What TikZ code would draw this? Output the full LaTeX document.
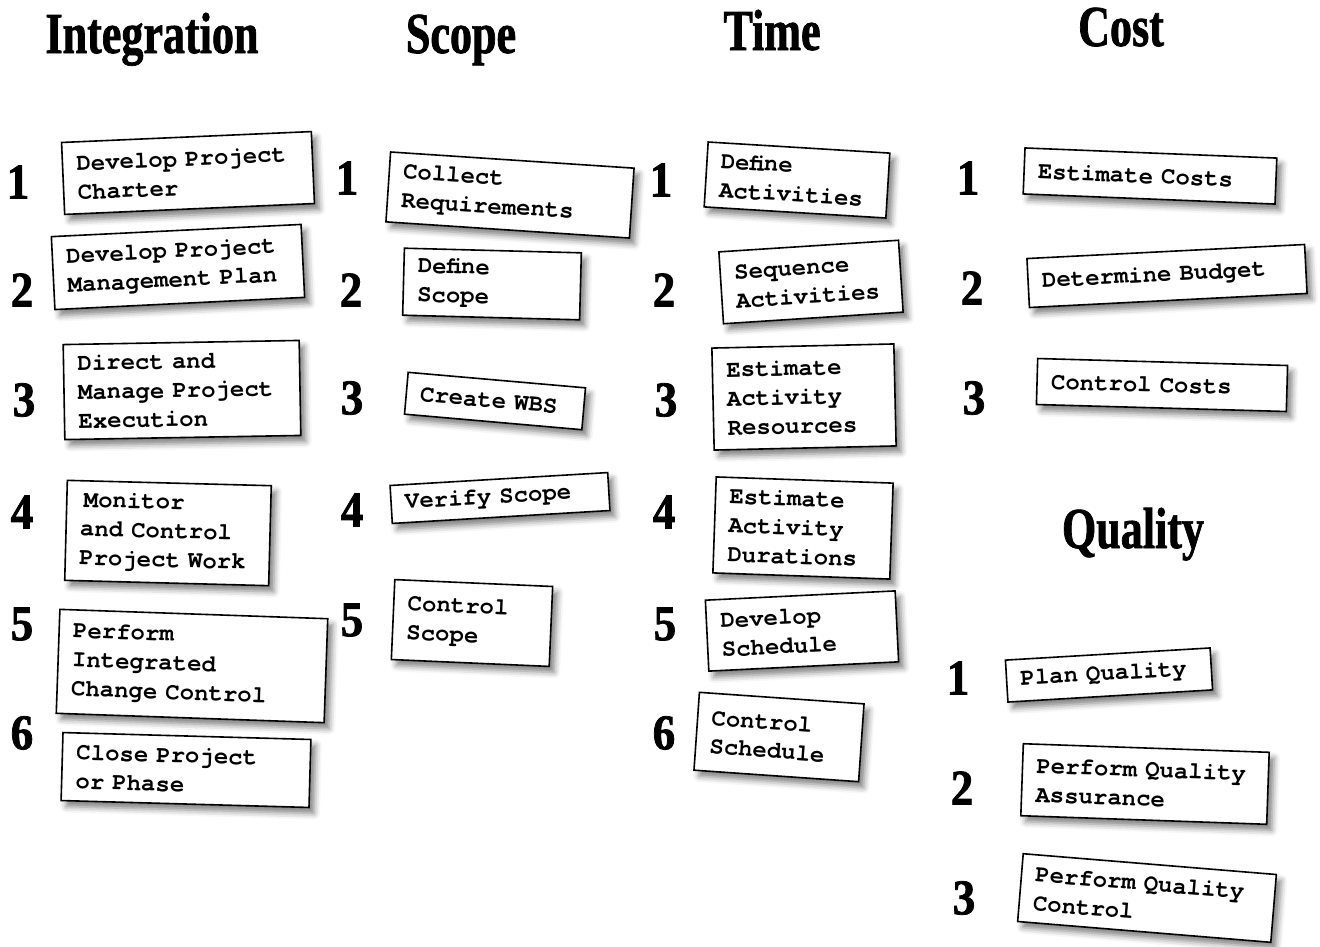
\documentclass[tikz,border=0pt]{standalone}
\usepackage{fontspec}
\setmainfont{Liberation Serif}
\setmonofont{TeX Gyre Cursor}
\newfontfamily\headfont[FakeStretch=0.76, FakeBold=1.2]{Liberation Serif}
\newfontfamily\numfont[FakeStretch=0.9, FakeBold=1.5]{Liberation Serif}
\usetikzlibrary{shadows.blur}

\tikzset{
    task/.style={draw, line width=1.6pt, fill=white, align=left,
        inner xsep=14pt, inner ysep=5pt,
        font={\ttfamily\bfseries\fontsize{24}{29}\selectfont
            \spaceskip=0.6em\relax \xspaceskip=0.6em\relax},
        blur shadow={shadow xshift=5pt, shadow yshift=-6pt,
            shadow opacity=50, shadow blur radius=6pt}},
    area/.style={anchor=base, font=\headfont\bfseries\fontsize{58}{60}\selectfont},
    num/.style={inner sep=0pt, font=\numfont\bfseries\fontsize{50}{50}\selectfont}
}

\begin{document}
\begin{tikzpicture}[x=1pt, y=-1pt]
    \useasboundingbox (0,0) rectangle (1320,946);

    \node[area] (hint) at (152,53) {Integration};
    \node[area] (hscp) at (461,53) {Scope};
    \node[area] (htim) at (772,50) {Time};
    \node[area] (hcst) at (1121,46) {Cost};
    \node[area] (hqlt) at (1133,548) {Quality};

    \foreach \n/\x/\y in {1/18/182, 2/22/290, 3/24/400, 4/22/512, 5/22/624, 6/22/733}
        \node[num] (nint\n) at (\x,\y) {\n};
    \foreach \n/\x/\y in {1/347/178, 2/351/290, 3/352/398, 4/352/510, 5/352/620}
        \node[num] (nscp\n) at (\x,\y) {\n};
    \foreach \n/\x/\y in {1/661/180, 2/664/290, 3/666/400, 4/664/512, 5/665/624, 6/664/733}
        \node[num] (ntim\n) at (\x,\y) {\n};
    \foreach \n/\x/\y in {1/968/178, 2/972/288, 3/974/398}
        \node[num] (ncst\n) at (\x,\y) {\n};
    \foreach \n/\x/\y in {1/958/678, 2/962/788, 3/964/898}
        \node[num] (nqlt\n) at (\x,\y) {\n};

    \node[task, rotate=2.5, text width=222pt, minimum height=72pt] (int1) at (188,173) {Develop Project\\Charter};
    \node[task, rotate=2.8, text width=222pt, minimum height=73pt] (int2) at (178,267) {Develop Project\\Management Plan};
    \node[task, rotate=1, text width=208pt, minimum height=95pt] (int3) at (182,390) {Direct and\\Manage Project\\Execution};
    \node[task, rotate=-1.5, text width=176pt, minimum height=100pt] (int4) at (168,533) {\hspace{3pt}Monitor\\and Control\\Project Work};
    \node[task, rotate=-2, text width=240pt, minimum height=104pt] (int5) at (192,666) {Perform\\Integrated\\Change Control};
    \node[task, rotate=-1.6, text width=220pt, minimum height=68pt] (int6) at (186,770) {Close Project\\or Phase};

    \node[task, rotate=-3.8, text width=216pt, minimum height=70pt] (scp1) at (510,195) {Collect\\Requirements};
    \node[task, rotate=-1.5, text width=149pt, minimum height=67pt] (scp2) at (492,284) {Define\\Scope};
    \node[task, rotate=-5, text width=150pt, minimum height=42pt] (scp3) at (495,401) {Create WBS};
    \node[task, rotate=3.4, text width=190pt, minimum height=38pt] (scp4) at (500,498) {Verify Scope};
    \node[task, rotate=-2.5, text width=130pt, minimum height=80pt] (scp5) at (472,623) {Control\\Scope};

    \node[task, rotate=-3.5, text width=154pt, minimum height=65pt] (tim1) at (797,180) {Define\\Activities};
    \node[task, rotate=3.7, text width=152pt, minimum height=72pt] (tim2) at (811,282) {Sequence\\Activities};
    \node[task, rotate=1.3, text width=154pt, minimum height=102pt] (tim3) at (804,397) {Estimate\\Activity\\Resources};
    \node[task, rotate=-2, text width=149pt, minimum height=96pt] (tim4) at (803,528) {Estimate\\Activity\\Durations};
    \node[task, rotate=2.8, text width=162pt, minimum height=71pt] (tim5) at (802,631) {Develop\\Schedule};
    \node[task, rotate=-4, text width=137pt, minimum height=78pt] (tim6) at (779,737) {Control\\Schedule};

    \node[task, rotate=-2.3, text width=224pt, minimum height=46pt] (cst1) at (1150,176) {Estimate Costs};
    \node[task, rotate=2.9, text width=250pt, minimum height=49pt] (cst2) at (1167,276) {Determine Budget};
    \node[task, rotate=-1.6, text width=222pt, minimum height=46pt] (cst3) at (1162,385) {Control Costs};

    \node[task, rotate=3.4, text width=177pt, minimum height=42pt] (qlt1) at (1109,675) {Plan Quality};
    \node[task, rotate=-2, text width=218pt, minimum height=72pt] (qlt2) at (1145,784) {Perform Quality\\Assurance};
    \node[task, rotate=-4.7, text width=226pt, minimum height=68pt] (qlt3) at (1147,898) {Perform Quality\\Control};
\end{tikzpicture}
\end{document}
